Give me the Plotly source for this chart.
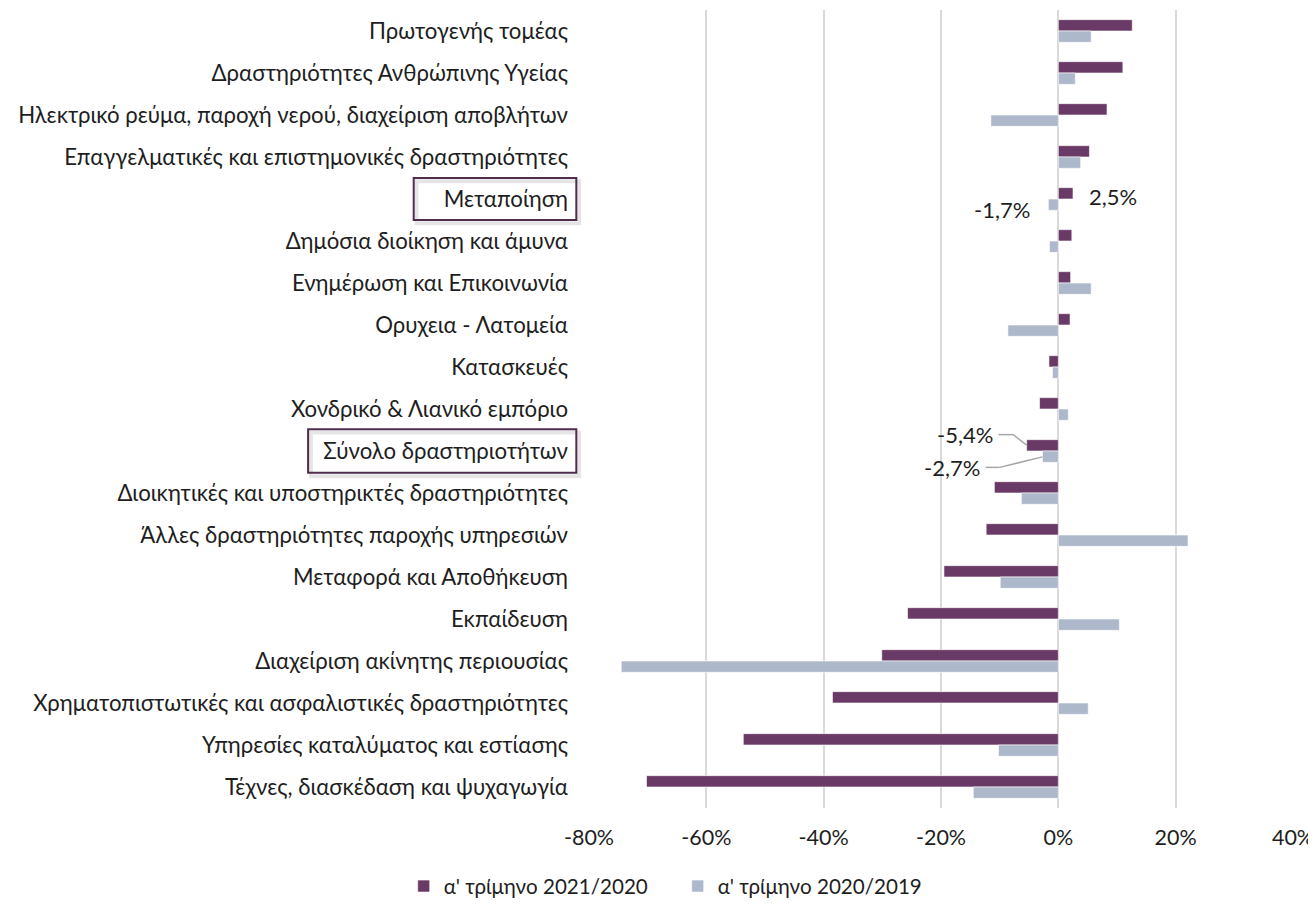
import plotly.graph_objects as go

categories = [
    "Πρωτογενής τομέας",
    "Δραστηριότητες Ανθρώπινης Υγείας",
    "Ηλεκτρικό ρεύμα, παροχή νερού, διαχείριση αποβλήτων",
    "Επαγγελματικές και επιστημονικές δραστηριότητες",
    "Μεταποίηση",
    "Δημόσια διοίκηση και άμυνα",
    "Ενημέρωση και Επικοινωνία",
    "Ορυχεια - Λατομεία",
    "Κατασκευές",
    "Χονδρικό & Λιανικό εμπόριο",
    "Σύνολο δραστηριοτήτων",
    "Διοικητικές και υποστηρικτές δραστηριότητες",
    "Άλλες δραστηριότητες παροχής υπηρεσιών",
    "Μεταφορά και Αποθήκευση",
    "Εκπαίδευση",
    "Διαχείριση ακίνητης περιουσίας",
    "Χρηματοπιστωτικές και ασφαλιστικές δραστηριότητες",
    "Υπηρεσίες καταλύματος και εστίασης",
    "Τέχνες, διασκέδαση και ψυχαγωγία",
]

q1_2021_2020 = [0.126, 0.110, 0.083, 0.053, 0.025, 0.023, 0.021, 0.020, -0.016, -0.032,
                -0.054, -0.109, -0.123, -0.195, -0.257, -0.301, -0.385, -0.537, -0.702]
q1_2020_2019 = [0.056, 0.029, -0.115, 0.038, -0.017, -0.015, 0.056, -0.086, -0.010, 0.017,
                -0.027, -0.063, 0.221, -0.099, 0.104, -0.745, 0.051, -0.102, -0.145]

series_names = ["α' τρίμηνο 2021/2020", "α' τρίμηνο 2020/2019"]
colors = ["#693a65", "#adb8ca"]
tick_vals = [-0.8, -0.6, -0.4, -0.2, 0, 0.2, 0.4]
tick_text = ["-80%", "-60%", "-40%", "-20%", "0%", "20%", "40%"]

FONT = "Lato, 'Noto Sans', sans-serif"
TXT = "#1e1e1e"

fig = go.Figure()
for name, vals, col in zip(series_names, [q1_2021_2020, q1_2020_2019], colors):
    fig.add_trace(go.Bar(
        y=categories, x=vals, name=name, orientation="h",
        marker=dict(color=col, line=dict(color="rgba(255,255,255,0.6)", width=1)),
        hoverinfo="x+y",
    ))

# page body has an 8px margin at left/top, so the figure is offset accordingly
fig.update_layout(
    width=1308, height=897,
    margin=dict(l=581, r=21, t=2, b=97),
    paper_bgcolor="white", plot_bgcolor="white",
    barmode="group", bargap=0.46, bargroupgap=0,
    font=dict(family=FONT, size=22, color=TXT),
    xaxis=dict(
        range=[-0.8, 0.4], tickvals=tick_vals, ticktext=tick_text,
        showgrid=True, gridcolor="#d9d9d9", gridwidth=2,
        zeroline=True, zerolinecolor="#d9d9d9", zerolinewidth=2,
        showline=False, ticks="", ticklabelstandoff=14,
        ticklabeloverflow="allow",
        tickfont=dict(size=21.5, color=TXT),
    ),
    yaxis=dict(
        type="category", autorange="reversed", showgrid=False,
        ticks="", ticklabelstandoff=20,
        tickfont=dict(size=22.2, color=TXT),
    ),
    legend=dict(
        orientation="h", xref="container", x=0.512, xanchor="center",
        yref="container", y=0.021, yanchor="middle",
        font=dict(size=20.6, color=TXT), traceorder="normal", itemwidth=30,
        entrywidth=229, entrywidthmode="pixels",
    ),
    showlegend=True,
)

# data labels
iM = categories.index("Μεταποίηση")
iS = categories.index("Σύνολο δραστηριοτήτων")
fig.add_annotation(x=q1_2021_2020[iM], y=iM, text="2,5%", showarrow=False,
                   xanchor="left", xshift=14, yshift=3, font=dict(size=22))
fig.add_annotation(x=q1_2020_2019[iM], y=iM, text="-1,7%", showarrow=False,
                   xanchor="right", xshift=-16, yshift=-10, font=dict(size=22))
fig.add_annotation(x=-0.104, y=iS - 0.39, text="-5,4%", showarrow=False,
                   xanchor="right", xshift=-2, font=dict(size=22))
fig.add_annotation(x=-0.126, y=iS + 0.39, text="-2,7%", showarrow=False,
                   xanchor="right", xshift=-2, font=dict(size=22))

# leader lines
lc = dict(color="#a6a6a6", width=1.5)
fig.add_shape(type="line", xref="x", yref="y", x0=-0.102, x1=-0.077, y0=iS - 0.39, y1=iS - 0.39, line=lc)
fig.add_shape(type="line", xref="x", yref="y", x0=-0.077, x1=q1_2021_2020[iS], y0=iS - 0.39, y1=iS - 0.14, line=lc)
fig.add_shape(type="line", xref="x", yref="y", x0=-0.124, x1=-0.100, y0=iS + 0.39, y1=iS + 0.39, line=lc)
fig.add_shape(type="line", xref="x", yref="y", x0=-0.100, x1=q1_2020_2019[iS], y0=iS + 0.39, y1=iS + 0.14, line=lc)

# highlight boxes around labels (with a soft shadow)
box = dict(color="#4f2d4c", width=2)
shadow = dict(color="rgba(0,0,0,0.10)", width=4)
for x0, i, h in [(-0.249, iM, 0.5), (-0.399, iS, 0.52)]:
    fig.add_shape(type="rect", xref="paper", yref="y", x0=x0 + 0.004, x1=-0.018 + 0.004,
                  y0=i - h + 0.08, y1=i + h + 0.08, line=shadow, layer="below")
    fig.add_shape(type="rect", xref="paper", yref="y", x0=x0, x1=-0.018,
                  y0=i - h, y1=i + h, line=box)

fig.write_html("out.html")
